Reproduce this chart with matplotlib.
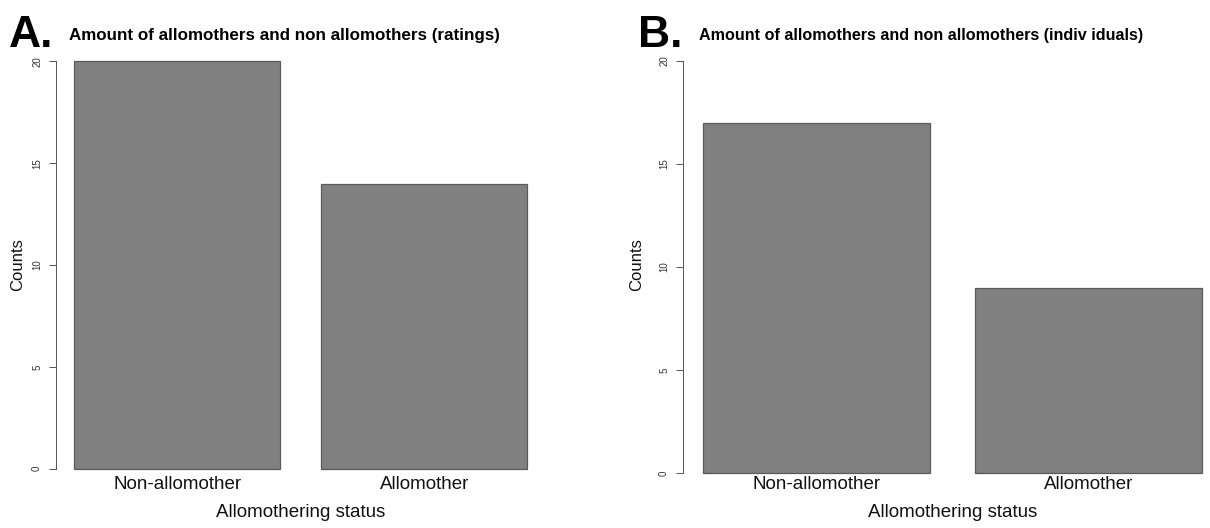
import matplotlib
matplotlib.use("Agg")
import matplotlib.pyplot as plt
from matplotlib import font_manager

# Data
categories = ["Non-allomother", "Allomother"]
counts_ratings = [20, 14]
counts_individuals = [17, 9]
yticks = [0, 5, 10, 15, 20]

panel_letters = ["A.", "B."]
panel_titles = [
    "Amount of allomothers and non allomothers (ratings)",
    "Amount of allomothers and non allomothers (indiv iduals)",
]
xlabel = "Allomothering status"
ylabel = "Counts"

W, H = 1210, 528
fig = plt.figure(figsize=(W / 100, H / 100), dpi=100)

sans = ["Liberation Sans", "DejaVu Sans"]

# Narrow bold face for the panel titles, if installed; else regular bold
title_family = sans
try:
    p = font_manager.findfont(
        font_manager.FontProperties(family="Liberation Sans Narrow",
                                    weight="bold"),
        fallback_to_default=False)
    if "Narrow" in p:
        title_family = ["Liberation Sans Narrow"] + sans
except Exception:
    pass


def px(x0, y0, x1, y1):
    """Axes rectangle from pixel edges (top-left origin)."""
    return [x0 / W, 1 - y1 / H, (x1 - x0) / W, (y1 - y0) / H]


# barplot-like geometry: width 1, space 0.2, 4% padding on both axes
centers = [0.7, 1.9]
xlim = (0.112, 2.488)
ylim = (-0.8, 20.8)

panels = [
    dict(rect=px(56, 45, 545.3, 485), values=counts_ratings, pad=-6.5,
         letter_xy=(9, 47), title_xy=(69, 40), title_w=433, ylab_x=18),
    dict(rect=px(683, 44.5, 1222, 489.5), values=counts_individuals, pad=-9.7,
         letter_xy=(638, 47), title_xy=(699, 40), title_w=445, ylab_x=637),
]

renderer = fig.canvas.get_renderer()

for i, p in enumerate(panels):
    ax = fig.add_axes(p["rect"])
    ax.bar(centers, p["values"], width=1.0, color="#808080",
           edgecolor="#5a5a5a", linewidth=0.9)
    ax.set_xlim(*xlim)
    ax.set_ylim(*ylim)

    for s in ["top", "right", "bottom"]:
        ax.spines[s].set_visible(False)
    ax.spines["left"].set_bounds(0, 20)
    ax.spines["left"].set_color("#555555")
    ax.spines["left"].set_linewidth(0.7)

    ax.set_yticks(yticks)
    ax.set_yticklabels([str(t) for t in yticks], fontsize=7,
                       family=sans, color="#333333")
    ax.tick_params(axis="y", length=5, width=0.7, color="#555555",
                   pad=5, labelrotation=90)
    for lab in ax.get_yticklabels():
        lab.set_va("center")

    ax.set_xticks(centers)
    ax.set_xticklabels(categories, fontsize=13.5, family=sans, color="#111111")
    ax.tick_params(axis="x", length=0, pad=p["pad"])

    ax.set_xlabel(xlabel, fontsize=13.5, family=sans, color="#111111",
                  labelpad=8)

    fig.text(p["ylab_x"] / W, 1 - 265 / H, ylabel, rotation=90,
             ha="center", va="center", fontsize=12, family=sans,
             color="#111111")

    lx, ly = p["letter_xy"]
    fig.text(lx / W, 1 - ly / H, panel_letters[i], ha="left",
             va="baseline", fontsize=32, fontweight="bold", family=sans,
             color="black")
    tx, ty = p["title_xy"]
    t = fig.text(tx / W, 1 - ty / H, panel_titles[i], ha="left",
                 va="baseline", color="black", fontsize=15,
                 fontweight="bold", family=title_family)
    # shrink the title to its target width
    w = t.get_window_extent(renderer).width
    t.set_fontsize(15 * p["title_w"] / w)

fig.savefig("out.png", dpi=100, facecolor="white")
